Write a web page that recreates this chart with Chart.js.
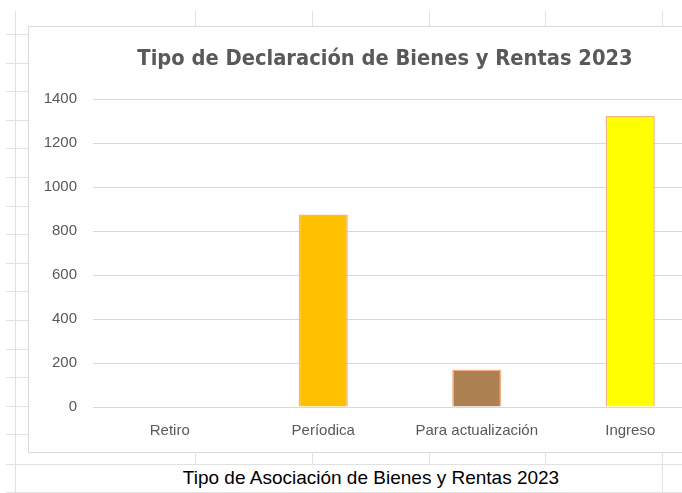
<!DOCTYPE html>
<html>
<head>
<meta charset="utf-8">
<script src="https://cdn.jsdelivr.net/npm/chart.js@4.4.0/dist/chart.umd.min.js"></script>
<style>
  html, body { margin: 0; padding: 0; background: #fff; overflow: hidden; }
  body { width: 682px; height: 493px; position: relative; }
  .ln { position: absolute; background: #e1e1e1; }
  #chartBox {
    position: absolute; left: 28px; top: 26px; width: 714px; height: 427px;
    box-sizing: border-box; border: 1px solid #d9d9d9; background: #fff;
  }
  #chartBox canvas { position: absolute; left: 0; top: 0; }
  #cellText {
    position: absolute; left: 15px; top: 464px; width: 712px; height: 28px;
    font-family: 'Liberation Sans', Arial, sans-serif; font-size: 19px; color: #000;
    text-align: center; line-height: 28px;
  }
</style>
</head>
<body>
<div id="sheet"></div>
<div id="chartBox"><canvas id="barChart"></canvas></div>
<div id="cellText">Tipo de Asociación de Bienes y Rentas 2023</div>
<script>
// ── datos ──
const CATEGORIAS = ['Retiro', 'Períodica', 'Para actualización', 'Ingreso'];
const VALORES = [0, 875, 171, 1323];
const COLORES = ['#FFC000', '#FFC000', '#AD8052', '#FFFF00'];
const TITULO = 'Tipo de Declaración de Bienes y Rentas 2023';

// ── cuadrícula de la hoja (decoración) ──
function line(x, y, w, h) {
  const d = document.createElement('div');
  d.className = 'ln';
  d.style.left = x + 'px'; d.style.top = y + 'px';
  d.style.width = w + 'px'; d.style.height = h + 'px';
  document.getElementById('sheet').appendChild(d);
}
line(15, 11, 1, 482);
[195, 312, 429, 545, 662].forEach(x => {
  line(x, 11, 1, 15);
  line(x, 453, 1, 11);
});
line(662, 464, 1, 29);
for (let y = 34; y < 450; y += 28.6) line(6, Math.round(y), 22, 1);
line(6, 464, 676, 1);
line(6, 492, 676, 1);

// título centrado sobre todo el área del gráfico (como Excel)
const tituloPlugin = {
  id: 'tituloExcel',
  afterDraw(chart) {
    const c = chart.ctx;
    c.save();
    c.font = "bold 21.7px 'Liberation Sans Narrow', 'DejaVu Sans Condensed', sans-serif";
    c.fillStyle = '#595959';
    c.textAlign = 'center';
    c.textBaseline = 'middle';
    c.fillText(TITULO, chart.width / 2, 32);
    c.restore();
  }
};

// ── gráfico ──
const ctx = document.getElementById('barChart').getContext('2d');
new Chart(ctx, {
  type: 'bar',
  data: {
    labels: CATEGORIAS,
    datasets: [{
      data: VALORES,
      backgroundColor: COLORES,
      borderColor: '#F4B183',
      borderWidth: 1.5,
      categoryPercentage: 1,
      barPercentage: 0.32
    }]
  },
  plugins: [tituloPlugin],
  options: {
    responsive: true,
    maintainAspectRatio: false,
    animation: false,
    layout: { padding: { left: 0, right: 34, top: 72, bottom: 0 } },
    plugins: {
      legend: { display: false },
      tooltip: { enabled: false },
      title: { display: false }
    },
    scales: {
      x: {
        grid: { display: false },
        border: { display: false },
        ticks: {
          color: '#595959', padding: 7,
          font: { family: "'Liberation Sans', Arial, sans-serif", size: 15 },
          maxRotation: 0, autoSkip: false
        },
        afterFit: (s) => { s.height = 45; }
      },
      y: {
        min: 0, max: 1400,
        grid: { color: '#d9d9d9', lineWidth: 1, drawTicks: false },
        border: { display: false },
        ticks: {
          stepSize: 200, color: '#595959', padding: 16,
          font: { family: "'Liberation Sans', Arial, sans-serif", size: 15 },
          callback: (v) => String(v)
        },
        afterFit: (s) => { s.width = 64; }
      }
    }
  }
});
</script>
</body>
</html>
